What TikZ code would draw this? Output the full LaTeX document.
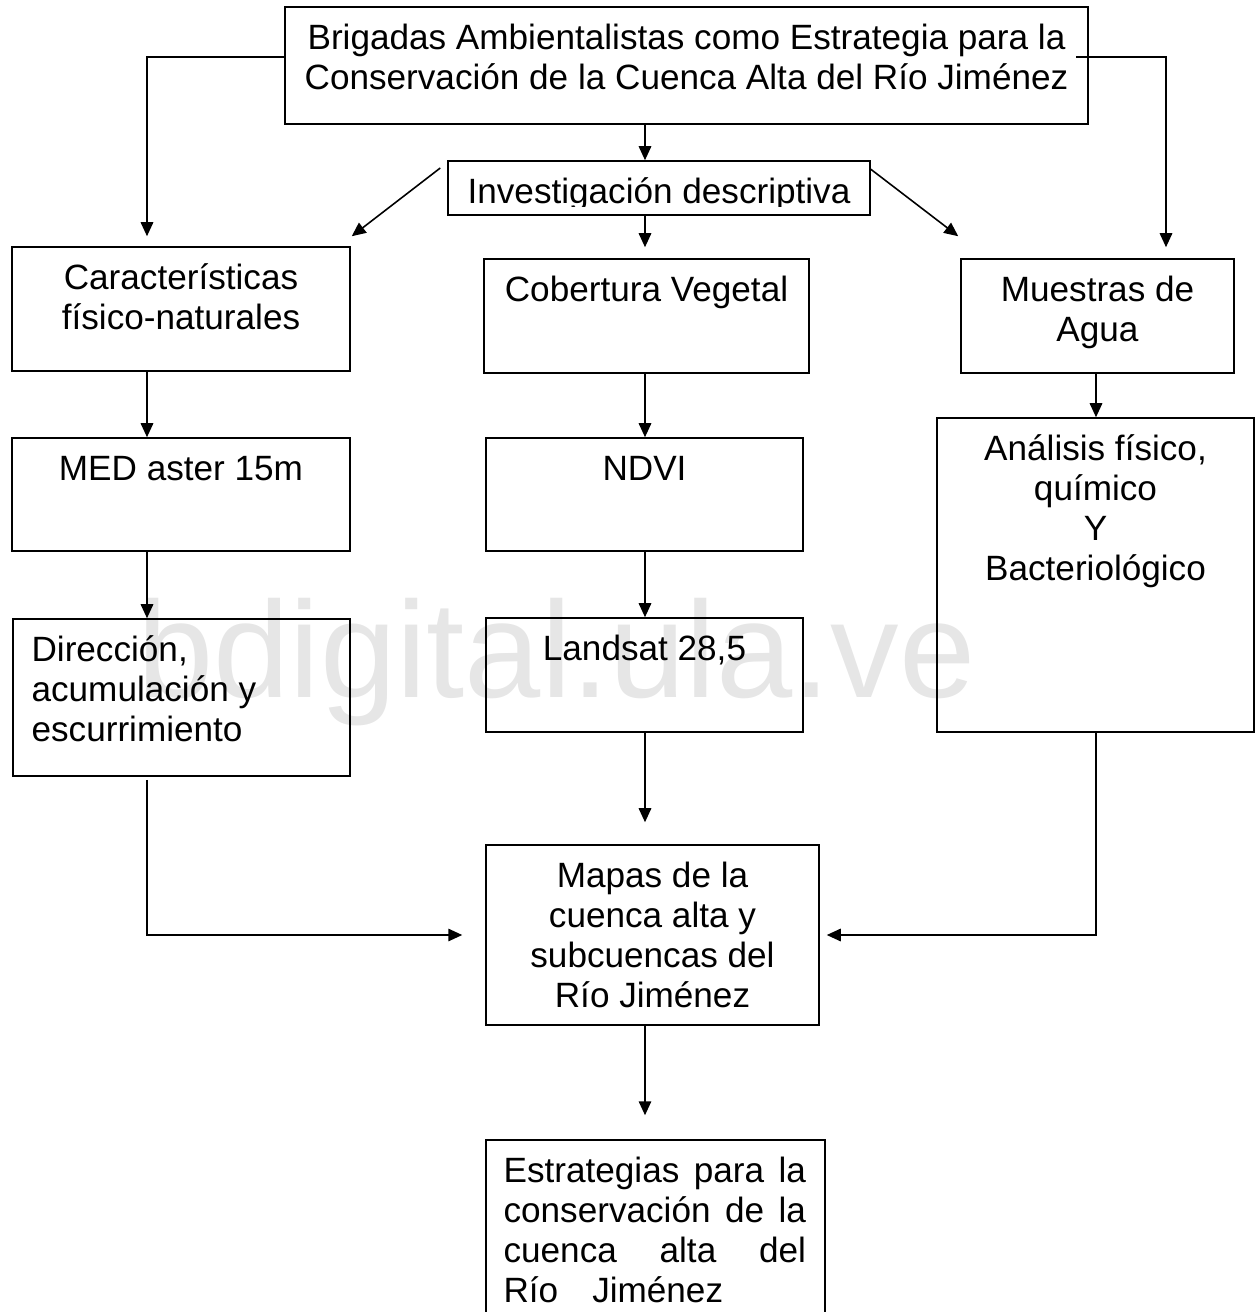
\documentclass[tikz,border=0pt]{standalone}
\usepackage{fontspec}
\setmainfont{Liberation Sans}
\usepackage{tikz}
\usetikzlibrary{arrows.meta}
\definecolor{markgray}{RGB}{230,230,230}
\newcommand{\fst}{\rule{0pt}{0.86cm}}

\begin{document}
\begin{tikzpicture}[x=0.02cm, y=-0.02cm,
    font=\fontsize{20}{22.76}\selectfont,
    box/.style={draw, line width=0.9pt, inner sep=0pt},
    txt/.style={anchor=north, align=center, inner sep=0pt},
    arr/.style={line width=0.9pt, -{Triangle[length=0.28cm,width=0.25cm]}}]

    \useasboundingbox (0,0) rectangle (1256,1312);
    \clip (0,0) rectangle (1256,1312);

    % Watermark
    \node[anchor=base west, inner sep=0pt, text=markgray, font=\fontsize{78}{80}\selectfont] (mark) at (137,697) {bdigital.ula.ve};

    % Title
    \node[box, minimum width=16.06cm, minimum height=2.34cm] (top) at (686.5,65.5) {};
    \node[txt] (top-t) at (top.north) {\fst Brigadas Ambientalistas como Estrategia para la\\Conservación de la Cuenca Alta del Río Jiménez};

    % Type of research
    \node[box, minimum width=8.44cm, minimum height=1.08cm] (inv) at (659,188) {};
    \begin{scope}
        \clip (448,161) rectangle (870,206);
        \node[txt] (inv-t) at (inv.north) {\fst Investigación descriptiva};
    \end{scope}

    % Left column
    \node[box, minimum width=6.76cm, minimum height=2.48cm] (car) at (181,309) {};
    \node[txt] (car-t) at (car.north) {\fst Características\\físico-naturales};
    \node[box, minimum width=6.76cm, minimum height=2.26cm] (med) at (181,494.5) {};
    \node[txt] (med-t) at (med.north) {\fst MED aster 15m};
    \node[box, minimum width=6.74cm, minimum height=3.14cm] (dir) at (181.5,697.5) {};
    \node[txt, anchor=north west, align=left] (dir-t) at ([xshift=0.38cm]dir.north west) {\fst Dirección,\\acumulación y\\escurrimiento};

    % Middle column
    \node[box, minimum width=6.5cm, minimum height=2.28cm] (cob) at (646.5,316) {};
    \node[txt] (cob-t) at (cob.north) {\fst Cobertura Vegetal};
    \node[box, minimum width=6.34cm, minimum height=2.26cm] (ndvi) at (644.5,494.5) {};
    \node[txt] (ndvi-t) at (ndvi.north) {\fst NDVI};
    \node[box, minimum width=6.34cm, minimum height=2.28cm] (lsat) at (644.5,675) {};
    \node[txt] (lsat-t) at (lsat.north) {\fst Landsat 28,5};
    \node[box, minimum width=6.66cm, minimum height=3.6cm] (map) at (652.5,935) {};
    \node[txt] (map-t) at (map.north) {\fst Mapas de la\\cuenca alta y\\subcuencas del\\Río Jiménez};
    \node[box, minimum width=6.78cm, minimum height=4cm] (est) at (655.5,1240) {};
    \node[txt, anchor=north west, align=left] (est-t) at ([xshift=0.36cm]est.north west) {\fst\makebox[6.05cm][s]{Estrategias para la}\\\makebox[6.05cm][s]{conservación de la}\\\makebox[6.05cm][s]{cuenca alta del}\\Río\hspace{0.68cm}Jiménez};

    % Right column
    \node[box, minimum width=5.46cm, minimum height=2.28cm] (mue) at (1097.5,316) {};
    \node[txt] (mue-t) at (mue.north) {\fst Muestras de\\Agua};
    \node[box, minimum width=6.34cm, minimum height=6.28cm] (ana) at (1095.5,575) {};
    \node[txt] (ana-t) at (ana.north) {\fst Análisis físico,\\químico\\Y\\Bacteriológico};

    % Connector axes
    \coordinate (lx) at (147,0);
    \coordinate (mx) at (645,0);
    \coordinate (rx) at (1166,0);
    \coordinate (ax) at (1096,0);
    \coordinate (rs) at (1076,57);

    % From the title
    \draw[arr] ([yshift=0.17cm]top.west) -| ([yshift=0.2cm]car.north -| lx);
    \draw[arr] (rs) -| ([yshift=0.22cm]mue.north -| rx);
    \draw[arr] (top.south -| mx) -- (inv.north -| mx);

    % From the research type
    \draw[arr] ([shift={(-0.14cm,0.4cm)}]inv.west) -- ([shift={(0.02cm,0.2cm)}]car.north east);
    \draw[arr] (inv.south -| mx) -- ([yshift=0.22cm]cob.north -| mx);
    \draw[arr] ([yshift=-0.18cm]inv.north east) -- ([shift={(-0.04cm,0.44cm)}]mue.north west);

    % Down the columns
    \draw[arr] (car.south -| lx) -- (med.north -| lx);
    \draw[arr] (med.south -| lx) -- (dir.north -| lx);
    \draw[arr] (cob.south -| mx) -- (ndvi.north -| mx);
    \draw[arr] (ndvi.south -| mx) -- (lsat.north -| mx);
    \draw[arr] (mue.south -| ax) -- (ana.north -| ax);

    % Into the maps
    \draw[arr] ([yshift=-0.06cm]dir.south -| lx) |- ([xshift=-0.46cm]map.west);
    \draw[arr] (lsat.south -| mx) -- ([yshift=0.44cm]map.north -| mx);
    \draw[arr] (ana.south -| ax) |- ([xshift=0.14cm]map.east);
    \draw[arr] (map.south -| mx) -- ([yshift=0.48cm]est.north -| mx);

\end{tikzpicture}
\end{document}
